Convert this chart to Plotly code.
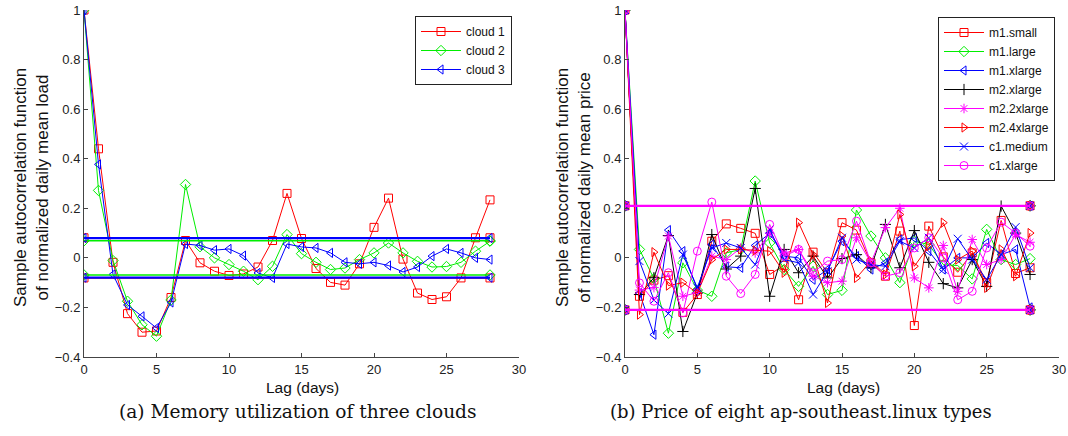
import plotly.graph_objects as go

lags = list(range(29))

# Left panel: memory utilization of three clouds
cloud_names = ["cloud 1", "cloud 2", "cloud 3"]
cloud1 = [1, 0.44, -0.018, -0.225, -0.30, -0.295, -0.16, 0.07, -0.02, -0.054, -0.071, -0.065, -0.037, 0.07, 0.26,
          0.078, -0.043, -0.099, -0.11, -0.024, 0.123, 0.241, -0.005, -0.142, -0.168, -0.157, -0.081, 0.081, 0.234]
cloud2 = [1, 0.272, -0.011, -0.175, -0.27, -0.316, -0.17, 0.296, 0.045, 0.0, -0.027, -0.054, -0.088, -0.034, 0.094,
          0.017, -0.018, -0.047, -0.041, -0.007, 0.02, 0.06, 0.02, -0.014, -0.037, -0.035, -0.018, 0.027, 0.067]
cloud3 = [1, 0.377, -0.067, -0.19, -0.236, -0.283, -0.18, 0.056, 0.05, 0.031, 0.036, 0.009, -0.061, -0.081, 0.056,
          0.044, 0.04, 0.02, -0.018, -0.024, -0.018, -0.031, -0.057, -0.037, 0.007, 0.036, 0.02, 0.0, -0.007]
cloud_bounds = [0.081, 0.069, 0.08]

# Right panel: price of eight ap-southeast.linux types
type_names = ["m1.small", "m1.large", "m1.xlarge", "m2.xlarge", "m2.2xlarge", "m2.4xlarge", "c1.medium", "c1.xlarge"]
m1_small = [1, -0.155, -0.09, -0.072, -0.22, -0.148, 0.067, 0.137, 0.119, 0.099, -0.067, -0.03, -0.169, 0.023, -0.06,
            0.142, 0.112, -0.02, -0.074, 0.108, -0.273, 0.128, 0.004, -0.058, 0.02, -0.1, 0.151, -0.063, -0.04]
m1_large = [1, 0.034, -0.084, -0.304, -0.02, -0.13, -0.155, 0.02, 0.034, 0.31, 0.06, -0.047, -0.115, -0.034, -0.148,
            -0.131, 0.193, 0.088, 0.0, -0.1, 0.067, 0.054, -0.027, -0.031, -0.085, 0.115, -0.007, -0.027, -0.003]
m1_xlarge = [1, -0.142, -0.31, 0.112, 0.027, -0.128, 0.054, -0.036, -0.04, 0.05, 0.1, 0.007, 0.0, -0.088, -0.047,
             0.067, 0.007, -0.047, -0.02, 0.074, 0.08, 0.027, -0.047, 0.0, 0.0, 0.06, 0.013, 0.034, -0.2]
m2_xlarge = [1, -0.148, -0.08, 0.09, -0.297, -0.142, 0.094, -0.045, 0.007, 0.28, -0.155, 0.034, -0.06, 0.007, -0.081,
             -0.003, 0.013, -0.04, 0.135, -0.04, 0.11, -0.018, -0.104, -0.121, -0.007, -0.115, 0.209, 0.1, -0.067]
m2_2xlarge = [1, -0.13, -0.12, 0.088, -0.155, -0.14, 0.007, -0.007, 0.04, 0.02, 0.1, 0.02, 0.034, -0.074, -0.1,
              -0.094, 0.081, -0.02, 0.122, 0.2, -0.081, -0.121, 0.05, -0.135, 0.074, -0.027, -0.007, 0.094, 0.063]
m2_4xlarge = [1, -0.229, 0.023, -0.112, -0.1, -0.142, -0.007, 0.034, 0.034, 0.03, 0.027, -0.06, 0.142, 0.013, -0.182,
              0.088, -0.081, -0.013, -0.067, 0.175, -0.034, 0.047, 0.142, -0.007, 0.027, -0.121, 0.034, -0.074, 0.1]
c1_medium = [1, -0.013, -0.17, -0.225, 0.013, -0.12, 0.04, 0.06, 0.04, -0.027, 0.115, -0.007, -0.02, -0.148, -0.054,
             0.081, -0.007, -0.027, -0.034, 0.067, 0.04, 0.081, -0.047, 0.077, -0.007, -0.088, 0.013, 0.124, -0.04]
c1_xlarge = [1, -0.101, -0.175, -0.06, -0.222, 0.027, 0.225, -0.074, -0.144, -0.067, 0.135, 0.007, 0.034, -0.06,
             -0.013, -0.007, 0.148, -0.02, -0.074, -0.06, 0.04, 0.081, 0.0, -0.169, -0.135, 0.04, 0.144, 0.1, 0.047]
type_bounds = [0.21] * 8

x_ticks = [0, 5, 10, 15, 20, 25, 30]
y_ticks = [-0.4, -0.2, 0, 0.2, 0.4, 0.6, 0.8, 1]
y_tick_labels = ["\u22120.4", "\u22120.2", "0", "0.2", "0.4", "0.6", "0.8", "1"]

left_series = [cloud1, cloud2, cloud3]
left_colors = ["#ff0000", "#00ee00", "#0000ff"]
left_symbols = ["square-open", "diamond-open", "triangle-left-open"]

right_series = [m1_small, m1_large, m1_xlarge, m2_xlarge, m2_2xlarge, m2_4xlarge, c1_medium, c1_xlarge]
right_colors = ["#ff0000", "#00ee00", "#0000ff", "#000000", "#ff00ff", "#ff0000", "#0000ff", "#ff00ff"]
right_symbols = ["square-open", "diamond-open", "triangle-left-open", "cross-thin-open", "asterisk-open",
                 "triangle-right-open", "x-thin-open", "circle-open"]

fig = go.Figure()

def add_panel(names, series, colors, symbols, bounds, xa, ya, legend):
    for name, s, c, sym in zip(names, series, colors, symbols):
        fig.add_trace(go.Scatter(x=lags, y=s, name=name, mode="lines+markers",
                                 line=dict(color=c, width=1),
                                 marker=dict(symbol=sym, size=8, color=c, line=dict(color=c, width=1)),
                                 xaxis=xa, yaxis=ya, legend=legend))
    n = len(bounds)
    for i, (c, sym, b) in enumerate(zip(colors, symbols, bounds)):
        w = 2.2 if i == n - 1 else 1.5
        for sgn in (1, -1):
            fig.add_trace(go.Scatter(x=[lags[0], lags[-1]], y=[sgn * b, sgn * b], mode="lines+markers",
                                     line=dict(color=c, width=w),
                                     marker=dict(symbol=sym, size=8, color=c, line=dict(color=c, width=1)),
                                     xaxis=xa, yaxis=ya, showlegend=False))

add_panel(cloud_names, left_series, left_colors, left_symbols, cloud_bounds, "x", "y", "legend")
add_panel(type_names, right_series, right_colors, right_symbols, type_bounds, "x2", "y2", "legend2")

W, H = 1068, 436

def px(x):
    return x / W

def py(y):
    return 1 - y / H

ydom = [py(357), py(10)]

axis_common = dict(showgrid=False, zeroline=False, showline=True, linecolor="#444", linewidth=1,
                   ticks="inside", ticklen=4, tickcolor="#444", automargin=False, ticklabeloverflow="allow",
                   tickfont=dict(family="Liberation Sans, Arial, sans-serif", size=13, color="#222"))

legend_font = dict(family="Liberation Sans, Arial, sans-serif", size=12, color="#111")

fig.update_layout(
    width=W, height=H, margin=dict(l=0, r=0, t=0, b=0, autoexpand=False),
    plot_bgcolor="white", paper_bgcolor="white",
    xaxis=dict(domain=[px(84), px(519)], range=[0, 30], tickvals=x_ticks, anchor="y", **axis_common),
    yaxis=dict(domain=ydom, range=[-0.4, 1], tickvals=y_ticks, ticktext=y_tick_labels, anchor="x", **axis_common),
    xaxis2=dict(domain=[px(625), px(1059)], range=[0, 30], tickvals=x_ticks, anchor="y2", **axis_common),
    yaxis2=dict(domain=ydom, range=[-0.4, 1], tickvals=y_ticks, ticktext=y_tick_labels, anchor="x2", **axis_common),
    legend=dict(x=px(512), xanchor="right", y=py(16), yanchor="top", bordercolor="#222", borderwidth=1,
                bgcolor="white", font=legend_font, tracegroupgap=0, itemwidth=40),
    legend2=dict(x=px(1055), xanchor="right", y=py(17), yanchor="top", bordercolor="#222", borderwidth=1,
                 bgcolor="white", font=legend_font, tracegroupgap=0, itemwidth=40),
    showlegend=True,
)

sans = dict(family="Liberation Sans, Arial, sans-serif", size=17, color="#111")
xlab = dict(family="Liberation Sans, Arial, sans-serif", size=15.5, color="#111")
serif_a = dict(family="DejaVu Serif, serif", size=18.6, color="#111")
serif_b = dict(family="DejaVu Serif, serif", size=18.0, color="#111")
ann = [
    dict(text="Sample autocorrelation function<br>of normalized daily mean load", x=px(31), y=py(188),
         textangle=-90, font=sans),
    dict(text="Sample autocorrelation function<br>of normalized daily mean price", x=px(573), y=py(188),
         textangle=-90, font=sans),
    dict(text="Lag (days)", x=px(302), y=py(387), font=xlab),
    dict(text="Lag (days)", x=px(843), y=py(387), font=xlab),
    dict(text="(a) Memory utilization of three clouds", x=px(298), y=py(411), font=serif_a),
    dict(text="(b) Price of eight ap-southeast.linux types", x=px(801), y=py(411), font=serif_b),
]
for a in ann:
    fig.add_annotation(xref="paper", yref="paper", showarrow=False, xanchor="center", yanchor="middle", **a)

# remove the default 8px page margin so the figure sits at the window's top-left corner
fig.write_html("out.html", config={"displayModeBar": False},
               post_script="document.body.style.margin='0px';")
